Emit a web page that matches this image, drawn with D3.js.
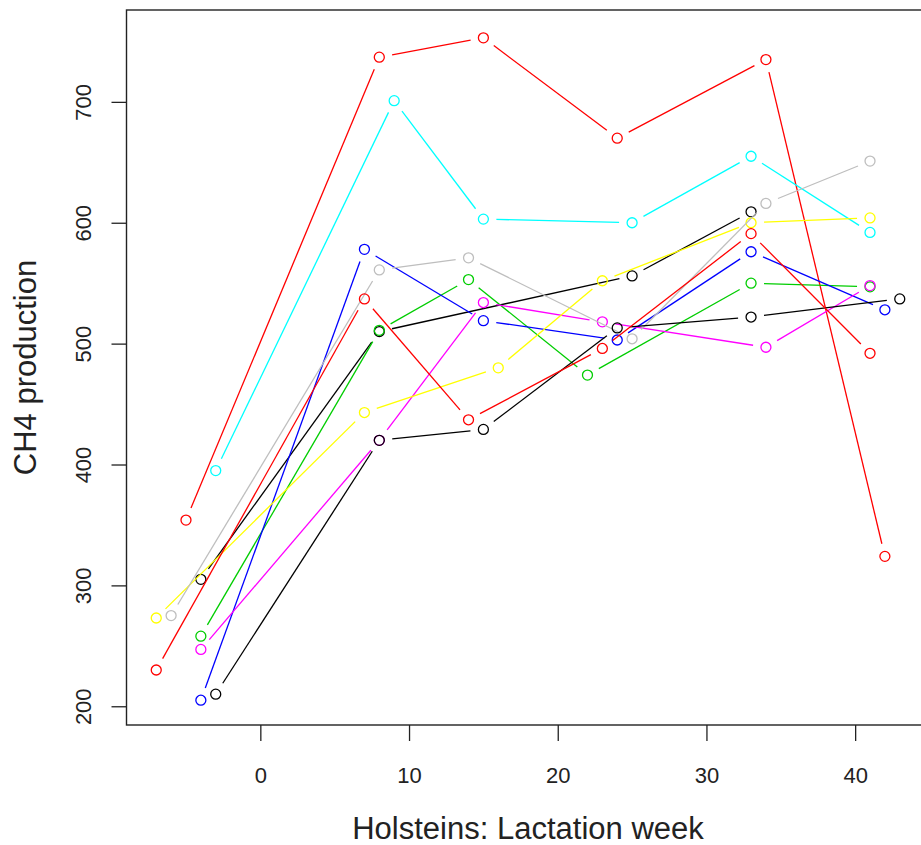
<!DOCTYPE html>
<html>
<head>
<meta charset="utf-8">
<script src="https://cdn.jsdelivr.net/npm/d3@7"></script>
<style>
	body { margin: 0; background: #fff; }
	svg { display: block; }
	text { font-family: "Liberation Sans", Arial, sans-serif; fill: #222; }
</style>
</head>
<body>
<div id="chart"></div>
<script>
// lactation weeks and CH4 values per cow
const weeksRed1 = [-5, 8, 15, 24, 34, 42];
const ch4Red1 = [354, 737, 753, 670, 735, 324];
const weeksRed2 = [-7, 7, 14, 23, 33, 41];
const ch4Red2 = [230, 537, 437, 496, 591, 492];
const weeksCyan = [-3, 9, 15, 25, 33, 41];
const ch4Cyan = [395, 701, 603, 600, 655, 592];
const weeksGray = [-6, 8, 14, 25, 34, 41];
const ch4Gray = [275, 561, 571, 504, 616, 651];
const weeksYellow = [-7, 7, 16, 23, 33, 41];
const ch4Yellow = [273, 443, 480, 552, 600, 604];
const weeksBlack1 = [-4, 8, 25, 33];
const ch4Black1 = [305, 510, 556, 609];
const weeksBlack2 = [-3, 8, 15, 24, 33, 43];
const ch4Black2 = [210, 420, 429, 513, 522, 537];
const weeksGreen = [-4, 8, 14, 22, 33, 41];
const ch4Green = [258, 511, 553, 474, 550, 547];
const weeksBlue = [-4, 7, 15, 24, 33, 42];
const ch4Blue = [205, 578, 519, 503, 576, 528];
const weeksMagenta = [-4, 8, 15, 23, 34, 41];
const ch4Magenta = [247, 420, 534, 518, 497, 548];

const xTicks = [0, 10, 20, 30, 40];
const yTicks = [200, 300, 400, 500, 600, 700];

const seriesList = [
	{ color: "#000000", weeks: weeksBlack1, values: ch4Black1 },
	{ color: "#FF0000", weeks: weeksRed1, values: ch4Red1 },
	{ color: "#00CD00", weeks: weeksGreen, values: ch4Green },
	{ color: "#0000FF", weeks: weeksBlue, values: ch4Blue },
	{ color: "#00FFFF", weeks: weeksCyan, values: ch4Cyan },
	{ color: "#FF00FF", weeks: weeksMagenta, values: ch4Magenta },
	{ color: "#FFFF00", weeks: weeksYellow, values: ch4Yellow },
	{ color: "#BEBEBE", weeks: weeksGray, values: ch4Gray },
	{ color: "#000000", weeks: weeksBlack2, values: ch4Black2 },
	{ color: "#FF0000", weeks: weeksRed2, values: ch4Red2 }
];

function cowLinePlot(svg_name) {

	// General Variables
	const chart_width = 921;
	const chart_height = 845;
	const box = { left: 126.5, top: 10, right: 929.5, bottom: 725 };
	let chart = d3.select(svg_name).append("svg")
		.attr("width", chart_width)
		.attr("height", chart_height);

	// scales, R style 4% padding around the data
	let x = d3.scaleLinear()
		.domain([-9, 45])
		.range([box.left, box.right]);

	let y = d3.scaleLinear()
		.domain([184.5, 776])
		.range([box.bottom, box.top]);

	// X Axis
	let xAxis = chart.append("g")
		.attr("transform", "translate(0," + box.bottom + ")")
		.call(d3.axisBottom(x).tickValues(xTicks).tickSize(16).tickSizeOuter(0).tickPadding(26));
	xAxis.select(".domain").remove();
	xAxis.selectAll("line").attr("stroke", "#222").attr("stroke-width", 1.3);
	xAxis.selectAll("text")
		.attr("fill", "#222")
		.style("font-size", "22px");

	// Y Axis, labels parallel to the axis
	let yAxis = chart.append("g")
		.attr("transform", "translate(" + box.left + ",0)")
		.call(d3.axisLeft(y).tickValues(yTicks).tickSize(15).tickSizeOuter(0));
	yAxis.select(".domain").remove();
	yAxis.selectAll("line").attr("stroke", "#222").attr("stroke-width", 1.3);
	yAxis.selectAll("text")
		.attr("x", 0)
		.attr("y", -35.5)
		.attr("dy", null)
		.attr("transform", "rotate(-90)")
		.attr("text-anchor", "middle")
		.attr("fill", "#222")
		.style("font-size", "22px");

	// plot frame
	chart.append("rect")
		.attr("x", box.left)
		.attr("y", box.top)
		.attr("width", box.right - box.left)
		.attr("height", box.bottom - box.top)
		.attr("fill", "none")
		.attr("stroke", "#222")
		.attr("stroke-width", 1.4);

	// lines with gaps around the points (type = "b")
	const gap = 13;
	let plot = chart.append("g");
	seriesList.forEach(function (s) {
		let pts = s.weeks.map(function (w, i) { return [x(w), y(s.values[i])]; });
		for (let i = 0; i < pts.length - 1; i++) {
			let dx = pts[i + 1][0] - pts[i][0];
			let dy = pts[i + 1][1] - pts[i][1];
			let len = Math.sqrt(dx * dx + dy * dy);
			if (len <= 2 * gap) continue;
			let ux = dx / len, uy = dy / len;
			plot.append("line")
				.attr("x1", pts[i][0] + ux * gap)
				.attr("y1", pts[i][1] + uy * gap)
				.attr("x2", pts[i + 1][0] - ux * gap)
				.attr("y2", pts[i + 1][1] - uy * gap)
				.attr("stroke", s.color)
				.attr("stroke-width", 1.3);
		}
		plot.selectAll(null)
			.data(pts).enter()
			.append("circle")
			.attr("cx", d => d[0])
			.attr("cy", d => d[1])
			.attr("r", 5)
			.attr("fill", "none")
			.attr("stroke", s.color)
			.attr("stroke-width", 1.3);
	});

	// axis titles, centred on the plot region
	chart.append("text")
		.attr("x", (box.left + box.right) / 2)
		.attr("y", 839)
		.attr("text-anchor", "middle")
		.style("font-size", "31px")
		.text("Holsteins: Lactation week");

	chart.append("text")
		.attr("transform", "translate(36," + ((box.top + box.bottom) / 2) + ") rotate(-90)")
		.attr("text-anchor", "middle")
		.style("font-size", "31px")
		.text("CH4 production");

	return { chart: chart, x_scale: x, y_scale: y };
}

cowLinePlot("#chart");
</script>
</body>
</html>
